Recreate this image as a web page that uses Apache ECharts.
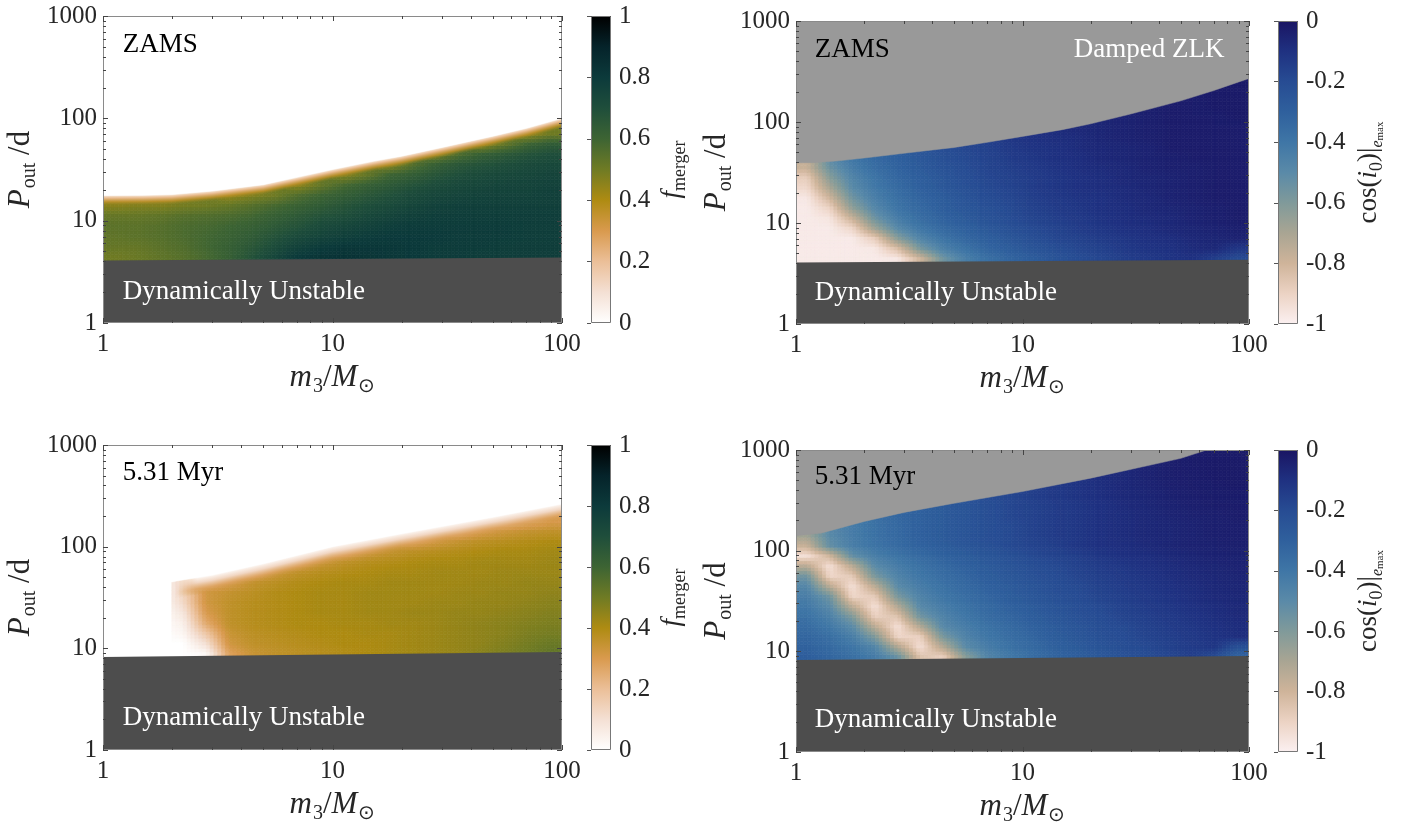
<!DOCTYPE html>
<html><head><meta charset="utf-8">
<script src="https://cdn.jsdelivr.net/npm/echarts@6/dist/echarts.min.js"></script>
<style>html,body{margin:0;padding:0;background:#fff}#c{width:1403px;height:829px}</style>
</head><body><div id="c"></div>
<script>
// ---------------- DATA ----------------
// bin edges (m3 in Msun, P_out in days), 0.1-decade bins
const m3Edges = [1, 1.259, 1.585, 1.995, 2.512, 3.162, 3.981, 5.012, 6.310, 7.943, 10,
                 12.59, 15.85, 19.95, 25.12, 31.62, 39.81, 50.12, 63.10, 79.43, 100];
const pEdges = [3.981, 5.012, 6.310, 7.943, 10, 12.59, 15.85, 19.95, 25.12, 31.62, 39.81,
                50.12, 63.10, 79.43, 100, 125.9, 158.5, 199.5, 251.2, 316.2, 398.1,
                501.2, 631.0, 794.3, 1000];
const xTickLabels = [1, 10, 100];
const yTickLabels = [1, 10, 100, 1000];
const xMinor = [2,3,4,5,6,7,8,9,20,30,40,50,60,70,80,90];
const yMinor = [2,3,4,5,6,7,8,9,20,30,40,50,60,70,80,90,200,300,400,500,600,700,800,900];

// top-left: f_merger at ZAMS, one list per m3 bin, from P=3.98 d upward (interior of region)
const tlF = [
  [0.5,0.52,0.53,0.54,0.52,0.46],
  [0.51,0.52,0.54,0.54,0.52,0.47],
  [0.53,0.54,0.55,0.55,0.53,0.47],
  [0.55,0.56,0.57,0.57,0.55,0.49],
  [0.58,0.59,0.59,0.58,0.56,0.5],
  [0.62,0.62,0.61,0.6,0.57,0.52,0.44],
  [0.68,0.66,0.64,0.62,0.59,0.55,0.47],
  [0.74,0.71,0.68,0.65,0.62,0.58,0.5],
  [0.8,0.76,0.72,0.68,0.65,0.61,0.56,0.45],
  [0.82,0.79,0.75,0.72,0.68,0.64,0.6,0.52],
  [0.83,0.81,0.77,0.74,0.7,0.67,0.63,0.58,0.46],
  [0.82,0.81,0.79,0.76,0.73,0.7,0.66,0.62,0.52],
  [0.81,0.81,0.8,0.78,0.75,0.72,0.69,0.65,0.6,0.46],
  [0.8,0.8,0.8,0.79,0.77,0.74,0.72,0.68,0.63,0.55],
  [0.79,0.79,0.8,0.79,0.78,0.76,0.74,0.71,0.67,0.62,0.48],
  [0.79,0.79,0.79,0.79,0.78,0.77,0.75,0.73,0.7,0.66,0.56],
  [0.78,0.79,0.79,0.79,0.78,0.77,0.76,0.74,0.72,0.68,0.62,0.44],
  [0.78,0.78,0.79,0.79,0.78,0.77,0.76,0.75,0.73,0.7,0.65,0.52],
  [0.78,0.78,0.78,0.78,0.78,0.77,0.76,0.75,0.74,0.72,0.68,0.6,0.44],
  [0.78,0.78,0.78,0.78,0.78,0.77,0.77,0.76,0.75,0.73,0.7,0.64,0.5]
];
const tlTopM3 = [1, 1.5, 2, 3, 5, 7, 10, 15, 20, 30, 50, 70, 100];
const tlTopP  = [17.6, 17.7, 18.0, 19.5, 22.5, 26.5, 31.6, 38, 42.7, 52, 67, 80, 100];
const tlEdgeF = [0.02, 0.22, 0.36, 0.45];   // f across the edge band, from the edge inward
const tlDynM3 = [1, 100];
const tlDynP  = [4.07, 4.37];

// top-right: cos(i0) at e_max, ZAMS
const trC = [
  [-0.98,-0.98,-0.98,-0.98,-0.98,-0.98,-0.97,-0.92,-0.88,-0.78],
  [-0.98,-0.98,-0.98,-0.98,-0.96,-0.9,-0.8,-0.7,-0.62,-0.55,-0.5],
  [-0.98,-0.98,-0.98,-0.91,-0.78,-0.64,-0.56,-0.5,-0.47,-0.43,-0.4],
  [-0.98,-0.97,-0.88,-0.67,-0.55,-0.48,-0.44,-0.41,-0.39,-0.36,-0.34],
  [-0.97,-0.83,-0.62,-0.49,-0.43,-0.39,-0.37,-0.35,-0.33,-0.31,-0.3,-0.28],
  [-0.8,-0.58,-0.47,-0.4,-0.36,-0.34,-0.32,-0.3,-0.29,-0.27,-0.26,-0.24,-0.23],
  [-0.56,-0.45,-0.39,-0.34,-0.31,-0.29,-0.28,-0.26,-0.25,-0.23,-0.22,-0.21,-0.2],
  [-0.44,-0.38,-0.33,-0.3,-0.27,-0.25,-0.24,-0.22,-0.21,-0.2,-0.19,-0.18,-0.17],
  [-0.37,-0.32,-0.29,-0.26,-0.23,-0.22,-0.2,-0.19,-0.18,-0.17,-0.17,-0.16,-0.15,-0.14],
  [-0.32,-0.28,-0.25,-0.22,-0.2,-0.19,-0.18,-0.17,-0.16,-0.15,-0.14,-0.13,-0.12,-0.12],
  [-0.28,-0.24,-0.21,-0.19,-0.17,-0.16,-0.15,-0.14,-0.14,-0.13,-0.12,-0.11,-0.1,-0.1],
  [-0.24,-0.21,-0.18,-0.17,-0.15,-0.14,-0.13,-0.12,-0.12,-0.11,-0.1,-0.1,-0.09,-0.08,-0.08],
  [-0.2,-0.18,-0.16,-0.14,-0.13,-0.12,-0.11,-0.1,-0.1,-0.09,-0.09,-0.08,-0.08,-0.07,-0.07],
  [-0.18,-0.16,-0.14,-0.12,-0.11,-0.1,-0.1,-0.09,-0.09,-0.08,-0.07,-0.07,-0.06,-0.06,-0.06],
  [-0.15,-0.13,-0.12,-0.1,-0.09,-0.09,-0.08,-0.08,-0.07,-0.07,-0.06,-0.06,-0.05,-0.05,-0.05,-0.05],
  [-0.13,-0.11,-0.1,-0.09,-0.08,-0.07,-0.07,-0.06,-0.06,-0.05,-0.05,-0.05,-0.04,-0.04,-0.04,-0.04],
  [-0.11,-0.1,-0.09,-0.07,-0.07,-0.06,-0.05,-0.05,-0.05,-0.04,-0.04,-0.03,-0.03,-0.03,-0.03,-0.03,-0.03],
  [-0.1,-0.08,-0.07,-0.06,-0.05,-0.05,-0.04,-0.04,-0.04,-0.04,-0.03,-0.03,-0.03,-0.03,-0.03,-0.03,-0.03,-0.02],
  [-0.15,-0.07,-0.06,-0.05,-0.04,-0.04,-0.03,-0.03,-0.03,-0.03,-0.03,-0.03,-0.03,-0.03,-0.03,-0.02,-0.02,-0.02],
  [-0.2,-0.12,-0.05,-0.04,-0.03,-0.03,-0.03,-0.03,-0.03,-0.03,-0.03,-0.03,-0.03,-0.03,-0.02,-0.02,-0.02,-0.02]
];
const trTopM3 = [1, 1.2, 1.5, 2, 3, 5, 7, 10, 15, 20, 30, 50, 70, 100];
const trTopP  = [39.4, 39.6, 41, 44, 49, 56, 63, 72, 84, 96, 120, 162, 205, 270];
const trDynM3 = [1, 100];
const trDynP  = [4.07, 4.33];

// bottom-left: f_merger at 5.31 Myr, from P=7.94 d upward (interior of region)
const blF = [
  [], [], [],
  [0,0,0.03,0.05,0.08,0.12,0.14],
  [0.02,0.1,0.18,0.26,0.3,0.32,0.32,0.25],
  [0.28,0.32,0.34,0.36,0.36,0.36,0.35,0.3],
  [0.34,0.36,0.37,0.38,0.38,0.38,0.37,0.35,0.26],
  [0.36,0.37,0.38,0.39,0.39,0.39,0.39,0.37,0.33],
  [0.37,0.38,0.39,0.4,0.4,0.4,0.4,0.39,0.36,0.28],
  [0.38,0.39,0.4,0.4,0.41,0.41,0.41,0.4,0.38,0.33],
  [0.39,0.4,0.4,0.41,0.41,0.41,0.41,0.41,0.39,0.36,0.27],
  [0.4,0.4,0.41,0.41,0.42,0.42,0.42,0.41,0.4,0.38,0.32],
  [0.41,0.41,0.41,0.42,0.42,0.42,0.42,0.42,0.41,0.39,0.35],
  [0.42,0.42,0.42,0.42,0.43,0.42,0.42,0.42,0.41,0.4,0.37,0.28],
  [0.43,0.43,0.43,0.43,0.43,0.43,0.42,0.42,0.42,0.41,0.38,0.32],
  [0.44,0.44,0.44,0.44,0.44,0.43,0.43,0.42,0.42,0.41,0.39,0.35,0.25],
  [0.46,0.45,0.45,0.45,0.44,0.44,0.43,0.43,0.42,0.42,0.4,0.37,0.3],
  [0.48,0.47,0.46,0.46,0.45,0.44,0.44,0.43,0.43,0.42,0.41,0.38,0.33,0.2],
  [0.5,0.49,0.48,0.47,0.46,0.45,0.44,0.44,0.43,0.42,0.41,0.39,0.35,0.26],
  [0.53,0.51,0.49,0.48,0.47,0.46,0.45,0.44,0.43,0.43,0.42,0.4,0.36,0.3]
];
const blTopM3 = [1, 2, 2.1, 3, 5, 10, 20, 50, 100];
const blTopP  = [45, 45, 46, 52.5, 68, 100, 134, 195, 263];
const blEdgeF = [0.01, 0.13, 0.27, 0.34];
const blDynM3 = [1, 100];
const blDynP  = [8.2, 9.2];

// bottom-right: cos(i0) at e_max, 5.31 Myr
const brC = [
  [-0.29,-0.31,-0.33,-0.35,-0.38,-0.41,-0.44,-0.48,-0.56,-0.74,-0.94,-0.78,-0.68],
  [-0.33,-0.35,-0.37,-0.41,-0.45,-0.5,-0.56,-0.74,-0.91,-0.94,-0.8,-0.53,-0.5,-0.49],
  [-0.37,-0.4,-0.44,-0.5,-0.6,-0.75,-0.91,-0.94,-0.87,-0.74,-0.53,-0.44,-0.43,-0.43],
  [-0.43,-0.48,-0.6,-0.75,-0.89,-0.94,-0.87,-0.74,-0.58,-0.5,-0.44,-0.39,-0.38,-0.38,-0.37],
  [-0.54,-0.72,-0.91,-0.94,-0.85,-0.72,-0.58,-0.5,-0.46,-0.43,-0.39,-0.35,-0.34,-0.34,-0.33],
  [-0.85,-0.94,-0.89,-0.72,-0.56,-0.49,-0.46,-0.43,-0.4,-0.38,-0.35,-0.31,-0.3,-0.3,-0.3,-0.3],
  [-0.89,-0.72,-0.58,-0.49,-0.46,-0.43,-0.4,-0.38,-0.36,-0.34,-0.31,-0.28,-0.27,-0.27,-0.27,-0.27],
  [-0.62,-0.5,-0.46,-0.43,-0.4,-0.38,-0.36,-0.34,-0.32,-0.3,-0.28,-0.25,-0.24,-0.24,-0.24,-0.24],
  [-0.47,-0.43,-0.4,-0.38,-0.35,-0.34,-0.32,-0.3,-0.28,-0.27,-0.25,-0.22,-0.21,-0.21,-0.21,-0.21,-0.2],
  [-0.41,-0.38,-0.36,-0.34,-0.32,-0.3,-0.28,-0.27,-0.25,-0.24,-0.22,-0.19,-0.19,-0.19,-0.18,-0.18,-0.18],
  [-0.36,-0.34,-0.32,-0.3,-0.28,-0.27,-0.25,-0.24,-0.22,-0.21,-0.19,-0.17,-0.16,-0.16,-0.16,-0.16,-0.15,-0.15],
  [-0.32,-0.3,-0.28,-0.27,-0.25,-0.24,-0.22,-0.21,-0.2,-0.19,-0.17,-0.15,-0.14,-0.14,-0.14,-0.14,-0.13,-0.13],
  [-0.29,-0.27,-0.25,-0.24,-0.22,-0.21,-0.2,-0.19,-0.17,-0.16,-0.15,-0.12,-0.12,-0.12,-0.12,-0.12,-0.11,-0.11,-0.1],
  [-0.26,-0.24,-0.22,-0.21,-0.2,-0.19,-0.17,-0.16,-0.15,-0.14,-0.12,-0.1,-0.1,-0.1,-0.1,-0.1,-0.09,-0.09,-0.085],
  [-0.23,-0.21,-0.2,-0.19,-0.17,-0.16,-0.15,-0.14,-0.13,-0.12,-0.1,-0.09,-0.085,-0.085,-0.085,-0.08,-0.075,-0.07,-0.07],
  [-0.2,-0.19,-0.17,-0.16,-0.15,-0.14,-0.13,-0.12,-0.11,-0.1,-0.09,-0.075,-0.07,-0.07,-0.07,-0.065,-0.06,-0.055,-0.05,-0.05],
  [-0.18,-0.16,-0.15,-0.14,-0.13,-0.12,-0.11,-0.1,-0.09,-0.085,-0.075,-0.06,-0.06,-0.06,-0.055,-0.05,-0.045,-0.04,-0.035,-0.035],
  [-0.15,-0.14,-0.13,-0.12,-0.11,-0.1,-0.09,-0.085,-0.075,-0.07,-0.06,-0.05,-0.05,-0.05,-0.045,-0.04,-0.035,-0.03,-0.03,-0.025,-0.025],
  [-0.2,-0.12,-0.11,-0.1,-0.09,-0.085,-0.075,-0.07,-0.065,-0.06,-0.05,-0.045,-0.04,-0.04,-0.04,-0.03,-0.03,-0.025,-0.02,-0.02,-0.02],
  [-0.32,-0.22,-0.09,-0.085,-0.075,-0.07,-0.065,-0.06,-0.055,-0.05,-0.045,-0.04,-0.035,-0.035,-0.03,-0.03,-0.025,-0.02,-0.02,-0.02,-0.02]
];
const brTopM3 = [1, 1.3, 2, 3, 5, 10, 20, 50, 65];
const brTopP  = [141, 150, 195, 240, 296, 387, 525, 826, 1000];
const brDynM3 = [1, 100];
const brDynP  = [8.2, 9.0];

const fTicks = [0, 0.2, 0.4, 0.6, 0.8, 1];
const cTicks = [-1, -0.8, -0.6, -0.4, -0.2, 0];

// ---------------- STYLE ----------------
const SERIF = 'Liberation Serif';
const TXT = '#262626';
const fStops = [[0,'#ffffff'],[0.1,'#f4e0d4'],[0.2,'#ebbf98'],[0.3,'#d99a4e'],[0.4,'#ae8b12'],
  [0.5,'#6f7b24'],[0.6,'#3d6433'],[0.7,'#1f4e3b'],[0.8,'#0c3a3b'],[0.9,'#05232a'],[1,'#000000']];
const cStops = [[-1,'#fbf0f1'],[-0.9,'#ecd3c4'],[-0.8,'#cfb49a'],[-0.7,'#a9a593'],[-0.6,'#809a9a'],
  [-0.5,'#5a8aa8'],[-0.4,'#3f76a6'],[-0.3,'#2f609d'],[-0.2,'#274c93'],[-0.1,'#1f3181'],[0,'#1a1563']];
const SUBX = 6, SUBY = 3;   // shading sub-steps inside each cell (display only)

function lerpRGB(stops, v){
  const h2=h=>[parseInt(h.slice(1,3),16),parseInt(h.slice(3,5),16),parseInt(h.slice(5,7),16)];
  if (v <= stops[0][0]) return h2(stops[0][1]);
  for (let i=1;i<stops.length;i++){
    if (v <= stops[i][0]){
      const t=(v-stops[i-1][0])/(stops[i][0]-stops[i-1][0]);
      const a=h2(stops[i-1][1]), b=h2(stops[i][1]);
      return a.map((x,j)=>Math.round(x+(b[j]-x)*t));
    }
  }
  return h2(stops[stops.length-1][1]);
}
function colorAt(stops, v){ return 'rgb('+lerpRGB(stops,v).join(',')+')'; }
function colorAtA(stops, v, a){ return 'rgba('+lerpRGB(stops,v).join(',')+','+a+')'; }

function buildCells(cols, rowStart){
  const out=[];
  cols.forEach((col,ci)=>{
    col.forEach((v,ri)=>{
      const k=rowStart+ri;
      out.push([m3Edges[ci], m3Edges[ci+1], pEdges[k], pEdges[k+1], v, ci, ri, ri===col.length-1?1:0]);
    });
  });
  return out;
}
function getVal(cols, ci, ri, emptyVal){
  ci=Math.max(0,Math.min(cols.length-1,ci));
  const col=cols[ci];
  if (!col.length) return emptyVal;
  ri=Math.max(0,Math.min(col.length-1,ri));
  return col[ri];
}
function shadeVal(cols, X, Y, emptyVal){
  const i0=Math.floor(X), j0=Math.floor(Y), fx=X-i0, fy=Y-j0;
  const a=getVal(cols,i0,j0,emptyVal), b=getVal(cols,i0+1,j0,emptyVal),
        c=getVal(cols,i0,j0+1,emptyVal), d=getVal(cols,i0+1,j0+1,emptyVal);
  return a*(1-fx)*(1-fy)+b*fx*(1-fy)+c*(1-fx)*fy+d*fx*fy;
}

const panels = [
  {grid:{left:103, top:16, width:459, height:307}, cb:{left:591, top:16, width:20, height:307},
   cols:tlF, rowStart:0, empty:0, stops:fStops, range:[0,1], ticks:fTicks, topM3:tlTopM3, topP:tlTopP, topFill:'#ffffff',
   edge:{f:tlEdgeF, from:1, depth:0.1, alpha:[1,1,0.85,0], fadePx:0},
   dynM3:tlDynM3, dynP:tlDynP, cbName:'{i|f}{s|merger}', cbGap:44, yGap:63,
   notes:[{t:'ZAMS', at:[1.22,527], c:'#000', a:'left'},{t:'Dynamically Unstable', at:[1.22,2.0], c:'#fff', a:'left'}]},
  {grid:{left:796, top:21, width:453, height:303}, cb:{left:1278, top:21, width:20, height:303},
   cols:trC, rowStart:0, empty:-1, stops:cStops, range:[-1,0], ticks:cTicks, topM3:trTopM3, topP:trTopP, topFill:'#999999',
   edge:null,
   dynM3:trDynM3, dynP:trDynP, cbName:'{n|cos(}{i|i}{s|0}{n|)|}{e|e}{ss|max}', cbGap:54, yGap:56,
   notes:[{t:'ZAMS', at:[1.21,515], c:'#000', a:'left'},{t:'Damped ZLK', at:[78,515], c:'#fff', a:'right'},
          {t:'Dynamically Unstable', at:[1.21,2.03], c:'#fff', a:'left'}]},
  {grid:{left:103, top:445, width:459, height:305}, cb:{left:591, top:445, width:20, height:305},
   cols:blF, rowStart:3, empty:0, stops:fStops, range:[0,1], ticks:fTicks, topM3:blTopM3, topP:blTopP, topFill:'#ffffff',
   edge:{f:blEdgeF, from:2.1, depth:0.17, alpha:[1,1,0.8,0], fadePx:22},
   dynM3:blDynM3, dynP:blDynP, cbName:'{i|f}{s|merger}', cbGap:44, yGap:63,
   notes:[{t:'5.31 Myr', at:[1.22,530], c:'#000', a:'left'},{t:'Dynamically Unstable', at:[1.22,2.06], c:'#fff', a:'left'}]},
  {grid:{left:796, top:450, width:453, height:302}, cb:{left:1278, top:450, width:20, height:302},
   cols:brC, rowStart:3, empty:-1, stops:cStops, range:[-1,0], ticks:cTicks, topM3:brTopM3, topP:brTopP, topFill:'#999999',
   edge:null,
   dynM3:brDynM3, dynP:brDynP, cbName:'{n|cos(}{i|i}{s|0}{n|)|}{e|e}{ss|max}', cbGap:54, yGap:56,
   notes:[{t:'5.31 Myr', at:[1.21,540], c:'#000', a:'left'},{t:'Dynamically Unstable', at:[1.21,2.08], c:'#fff', a:'left'}]}
];

const grids=[], xAxes=[], yAxes=[], series=[];
const nameRich = {
  i:{fontFamily:SERIF, fontStyle:'italic', fontSize:31, color:TXT, lineHeight:38, verticalAlign:'middle'},
  n:{fontFamily:SERIF, fontSize:31, color:TXT, lineHeight:38, verticalAlign:'middle'},
  s:{fontFamily:SERIF, fontSize:20, color:TXT, lineHeight:38, verticalAlign:'bottom', padding:[0,0,0,1]}
};
const cbRich = {
  i:{fontFamily:SERIF, fontStyle:'italic', fontSize:27, color:TXT, lineHeight:34, verticalAlign:'middle'},
  n:{fontFamily:SERIF, fontSize:27, color:TXT, lineHeight:34, verticalAlign:'middle'},
  s:{fontFamily:SERIF, fontSize:18, color:TXT, lineHeight:34, verticalAlign:'bottom'},
  e:{fontFamily:SERIF, fontStyle:'italic', fontSize:16, color:TXT, lineHeight:34, verticalAlign:'bottom'},
  ss:{fontFamily:SERIF, fontSize:11, color:TXT, lineHeight:30, verticalAlign:'bottom'}
};

panels.forEach((pn, k)=>{
  const gi = grids.length;
  grids.push(Object.assign({show:false}, pn.grid));
  xAxes.push({gridIndex:gi, type:'log', logBase:10, min:1, max:100,
    axisLine:{show:false}, axisTick:{show:false}, splitLine:{show:false},
    axisLabel:{fontFamily:SERIF, fontSize:25, color:TXT, margin:9, formatter:v=>String(Math.round(v))},
    name:'{i|m}{s|3}{n|/}{i|M}{s|⊙}', nameLocation:'middle', nameGap:36,
    nameTextStyle:{rich:nameRich}});
  yAxes.push({gridIndex:gi, type:'log', logBase:10, min:1, max:1000,
    axisLine:{show:false}, axisTick:{show:false}, splitLine:{show:false},
    axisLabel:{fontFamily:SERIF, fontSize:25, color:TXT, margin:6, formatter:v=>String(Math.round(v))},
    name:'{i|P}{s|out}{n| /d}', nameLocation:'middle', nameGap:pn.yGap, nameRotate:90,
    nameTextStyle:{rich:nameRich}});
  // heat cells (each read value fills its bin; shaded smoothly across bins for display)
  series.push({type:'custom', xAxisIndex:gi, yAxisIndex:gi, data:buildCells(pn.cols, pn.rowStart),
    encode:{x:[0,1], y:[2,3]}, clip:true, silent:true, z:2,
    renderItem:(params, api)=>{
      const p0=api.coord([api.value(0), api.value(3)]);
      const p1=api.coord([api.value(1), api.value(2)]);
      const ci=api.value(5), ri=api.value(6), isTop=api.value(7);
      const w=(p1[0]-p0[0])/SUBX, h=(p1[1]-p0[1])/SUBY;
      const ch=[], topColors=[];
      for (let sx=0; sx<SUBX; sx++){
        for (let sy=0; sy<SUBY; sy++){
          const X=ci+(sx+0.5)/SUBX-0.5, Y=ri+(sy+0.5)/SUBY-0.5;
          const c=colorAt(pn.stops, shadeVal(pn.cols, X, Y, pn.empty));
          ch.push({type:'rect', shape:{x:p0[0]+sx*w, y:p1[1]-(sy+1)*h, width:w, height:h},
                   style:{fill:c, stroke:c, lineWidth:0.7}});
          if (sy===SUBY-1) topColors.push(c);
        }
      }
      if (isTop){
        const ceil=api.coord([1,1000])[1];
        topColors.forEach((c,sx)=>ch.push({type:'rect', shape:{x:p0[0]+sx*w, y:ceil, width:w, height:p0[1]-ceil},
          style:{fill:c, stroke:c, lineWidth:0.7}}));
      }
      return {type:'group', children:ch};
    }});
  // fall-off band along the outer edge of the merger region
  if (pn.edge){
    series.push({type:'custom', xAxisIndex:gi, yAxisIndex:gi, data:[[1,1]], encode:{x:0,y:1},
      clip:true, silent:true, z:2.5,
      renderItem:(params, api)=>{
        const E=pn.edge;
        const pts=[];
        pn.topM3.forEach((m,i)=>{ if (m>=E.from) pts.push(api.coord([m, pn.topP[i]])); });
        const dec=api.coord([1,1])[1]-api.coord([1,10])[1];
        const depth=E.depth*dec;
        const mkGrad=s=>new echarts.graphic.LinearGradient(0,0,0,1,
          E.f.map((f,i)=>({offset:i/(E.f.length-1), color:colorAtA(pn.stops, f, E.alpha[i]*s)})));
        const full=mkGrad(1);
        const ch=[];
        const x0=Math.floor(pts[0][0]);
        for (let x=x0; x<Math.ceil(pts[pts.length-1][0]); x++){
          const xc=x+0.5;
          let j=0; while (j<pts.length-2 && pts[j+1][0]<xc) j++;
          const t=Math.max(0,Math.min(1,(xc-pts[j][0])/(pts[j+1][0]-pts[j][0])));
          const y=pts[j][1]+(pts[j+1][1]-pts[j][1])*t;
          const s=E.fadePx ? Math.min(1,(x-x0+1)/E.fadePx) : 1;
          ch.push({type:'rect', shape:{x:x, y:y-1, width:1, height:depth+1}, style:{fill:s<1?mkGrad(s):full}});
        }
        return {type:'group', children:ch};
      }});
  }
  // region above outer boundary
  series.push({type:'custom', xAxisIndex:gi, yAxisIndex:gi, data:[[1,1000]], encode:{x:0,y:1},
    clip:true, silent:true, z:3,
    renderItem:(params, api)=>{
      const pts=pn.topM3.map((m,i)=>api.coord([m, pn.topP[i]]));
      const last=pn.topM3[pn.topM3.length-1];
      if (pn.topP[pn.topP.length-1] < 1000) pts.push(api.coord([last, 1000]));
      pts.push(api.coord([1,1000]));
      return {type:'polygon', shape:{points:pts}, style:{fill:pn.topFill, stroke:pn.topFill, lineWidth:0.5}};
    }});
  // dynamically unstable region
  series.push({type:'custom', xAxisIndex:gi, yAxisIndex:gi, data:[[1,1]], encode:{x:0,y:1},
    clip:true, silent:true, z:4,
    renderItem:(params, api)=>{
      const pts=pn.dynM3.map((m,i)=>api.coord([m, pn.dynP[i]]));
      pts.push(api.coord([100,1])); pts.push(api.coord([1,1]));
      return {type:'polygon', shape:{points:pts}, style:{fill:'#4d4d4d'}};
    }});
  // frame + ticks
  series.push({type:'custom', xAxisIndex:gi, yAxisIndex:gi, data:[[1,1]], encode:{x:0,y:1},
    clip:false, silent:true, z:6,
    renderItem:(params, api)=>{
      const a=api.coord([1,1000]), b=api.coord([100,1]);
      const ch=[{type:'rect', shape:{x:a[0]+0.5,y:a[1]+0.5,width:b[0]-a[0]-1,height:b[1]-a[1]-1},
        style:{fill:null, stroke:'#8a8a8a', lineWidth:1}}];
      const tk=(x1,y1,x2,y2)=>ch.push({type:'line', shape:{x1,y1,x2,y2}, style:{stroke:'#444', lineWidth:1}});
      const xt=(v,L)=>{const x=Math.round(api.coord([v,1])[0])+0.5; tk(x,b[1],x,b[1]-L); tk(x,a[1],x,a[1]+L);};
      const yt=(v,L)=>{const y=Math.round(api.coord([1,v])[1])+0.5; tk(a[0],y,a[0]+L,y); tk(b[0],y,b[0]-L,y);};
      xTickLabels.forEach(v=>xt(v,5)); xMinor.forEach(v=>xt(v,3));
      yTickLabels.forEach(v=>yt(v,5)); yMinor.forEach(v=>yt(v,3));
      return {type:'group', children:ch};
    }});
  // annotations
  series.push({type:'custom', xAxisIndex:gi, yAxisIndex:gi, data:pn.notes.map(n=>n.at), encode:{x:0,y:1},
    clip:false, silent:true, z:7,
    renderItem:(params, api)=>{
      const n=pn.notes[params.dataIndex];
      const p=api.coord([api.value(0), api.value(1)]);
      return {type:'text', x:p[0], y:p[1], style:{text:n.t, fill:n.c, fontFamily:SERIF, fontSize:27,
        align:n.a, verticalAlign:'middle', textAlign:n.a, textVerticalAlign:'middle'}};
    }});

  // colorbar
  const ci = grids.length;
  grids.push(Object.assign({show:false}, pn.cb));
  xAxes.push({gridIndex:ci, type:'value', min:0, max:1, show:false});
  yAxes.push({gridIndex:ci, type:'value', min:pn.range[0], max:pn.range[1], interval:0.2, position:'right',
    axisLine:{show:false}, splitLine:{show:false},
    axisTick:{show:true, inside:true, length:4, lineStyle:{color:'#555'}},
    axisLabel:{fontFamily:SERIF, fontSize:25, color:TXT, margin:8,
      formatter:v=>{const r=Math.round(v*10)/10; return String(r);}},
    name:pn.cbName, nameLocation:'middle', nameGap:pn.cbGap, nameRotate:90,
    nameTextStyle:{rich:cbRich}});
  series.push({type:'custom', xAxisIndex:ci, yAxisIndex:ci, data:[[0,pn.range[0],1,pn.range[1]]],
    encode:{x:[0,2], y:[1,3]}, clip:false, silent:true, z:2,
    renderItem:(params, api)=>{
      const a=api.coord([0,pn.range[1]]), b=api.coord([1,pn.range[0]]);
      const span=pn.range[1]-pn.range[0];
      const stops=pn.stops.map(s=>({offset:(pn.range[1]-s[0])/span, color:s[1]})).reverse();
      return {type:'group', children:[
        {type:'rect', shape:{x:a[0],y:a[1],width:b[0]-a[0],height:b[1]-a[1]},
         style:{fill:new echarts.graphic.LinearGradient(0,0,0,1,stops)}},
        {type:'rect', shape:{x:a[0]+0.5,y:a[1]+0.5,width:b[0]-a[0]-1,height:b[1]-a[1]-1},
         style:{fill:null, stroke:'#777', lineWidth:1}}]};
    }});
});

const chart = echarts.init(document.getElementById('c'), null, {renderer:'canvas'});
chart.setOption({animation:false, backgroundColor:'#ffffff', grid:grids, xAxis:xAxes, yAxis:yAxes, series:series});
</script></body></html>
